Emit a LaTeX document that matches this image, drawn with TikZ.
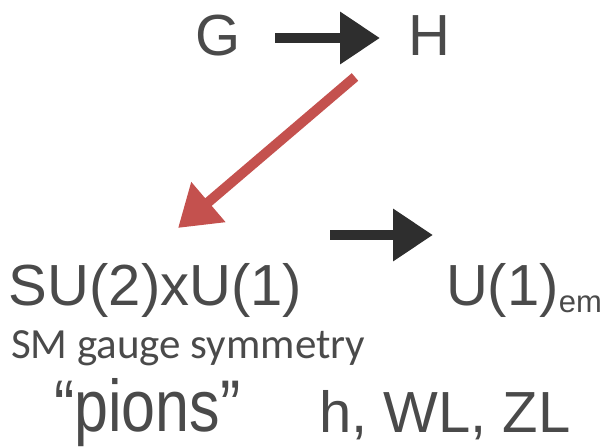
\documentclass[tikz,border=0pt]{standalone}
\usepackage{fontspec}
\setmainfont{Liberation Sans}
\newfontfamily\calib{Carlito}
\usetikzlibrary{arrows.meta}
\definecolor{txt}{HTML}{4A4A4A}
\definecolor{chalkblack}{HTML}{2E2E2E}
\definecolor{chalkred}{HTML}{C4514E}
\tikzset{
  lbl/.style={anchor=base west, inner sep=0pt, outer sep=0pt, text=txt, font=\fontsize{58}{60}\selectfont},
  small/.style={anchor=base west, inner sep=0pt, outer sep=0pt, text=txt, font=\calib\fontsize{43}{45}\selectfont},
  chalkarrow/.style={line width=10, -{Triangle[length=40,width=50]}},
}
\begin{document}
\begin{tikzpicture}[x=1pt,y=-1pt]
\useasboundingbox (0,0) rectangle (611,447);
\node[lbl] (G) at (195,55) {G};
\node[lbl] (H) at (408,55) {H};
\node[lbl] (SU) at (9,305) {SU(2)xU(1)};
\node[lbl] (U) at (446,305) {U(1)\raisebox{-7pt}{\fontsize{31}{32}\selectfont em}};
\node[small] (SM) at (11,358) {SM gauge symmetry};
\node[lbl, font=\fontsize{61}{62}\selectfont] (pions) at (54,431) {\scalebox{1}[1.2]{“pions”}};
\node[lbl, font=\fontsize{58}{60}\selectfont] (hwz) at (319,432) {h, WL, ZL};
\coordinate (a1s) at (275,38);
\coordinate (a1e) at (380,38);
\coordinate (a2s) at (355,77);
\coordinate (a2e) at (178,228);
\coordinate (a3s) at (330,235);
\coordinate (a3e) at (433,235);
\draw[chalkarrow, chalkblack] (a1s) -- (a1e);
\draw[chalkarrow, chalkred] (a2s) -- (a2e);
\draw[chalkarrow, chalkblack] (a3s) -- (a3e);
\end{tikzpicture}
\end{document}
